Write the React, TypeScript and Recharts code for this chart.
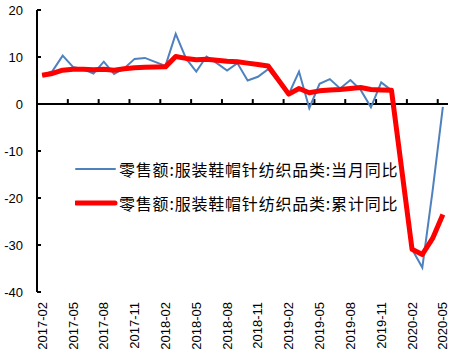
import React from 'react';
import { LineChart, Line, XAxis, YAxis, ReferenceLine } from 'recharts';

const months = [
  '2017-02', '2017-03', '2017-04', '2017-05', '2017-06', '2017-07', '2017-08', '2017-09', '2017-10', '2017-11', '2017-12',
  '2018-01', '2018-02', '2018-03', '2018-04', '2018-05', '2018-06', '2018-07', '2018-08', '2018-09', '2018-10', '2018-11', '2018-12',
  '2019-01', '2019-02', '2019-03', '2019-04', '2019-05', '2019-06', '2019-07', '2019-08', '2019-09', '2019-10', '2019-11', '2019-12',
  '2020-01', '2020-02', '2020-03', '2020-04', '2020-05',
];

const monthlyYoY: (number | null)[] = [
  6.1, 7.0, 10.3, 7.9, 7.4, 6.5, 9.0, 6.4, 7.6, 9.6, 9.8,
  null, 8.1, 14.9, 9.7, 6.9, 10.1, 8.7, 7.1, 8.7, 5.0, 5.8, 7.4,
  null, 2.1, 6.9, -0.9, 4.3, 5.3, 3.3, 5.1, 3.0, -0.7, 4.6, 2.9,
  null, -30.9, -34.8, -18.5, -0.6,
];

const cumulativeYoY: (number | null)[] = [
  6.1, 6.5, 7.2, 7.4, 7.4, 7.3, 7.4, 7.2, 7.5, 7.7, 7.8,
  null, 7.9, 10.1, 9.7, 9.4, 9.5, 9.3, 9.1, 9.0, 8.7, 8.4, 8.1,
  null, 2.1, 3.3, 2.4, 2.8, 3.0, 3.1, 3.3, 3.5, 3.1, 3.0, 2.9,
  null, -30.9, -32.0, -28.6, -23.5,
];

const seriesNames = ['零售额:服装鞋帽针纺织品类:当月同比', '零售额:服装鞋帽针纺织品类:累计同比'];
const yTicks = [-40, -30, -20, -10, 0, 10, 20];
const xLabelTicks = months.map((_, i) => i).filter((i) => i % 3 === 0);
const xTickMarks = xLabelTicks.slice(1).map((t) => t - 0.5);

const data = months.map((m, i) => ({ idx: i, month: m, cur: monthlyYoY[i], cum: cumulativeYoY[i] }));

const BLUE = '#4F81BD';
const RED = '#FF0000';
const FONT = '"Liberation Sans", Arial, sans-serif';
const CJK = '"Noto Sans CJK SC", sans-serif';

const XTick = (props: any) => {
  const { x, y, payload } = props;
  return (
    <text
      x={x}
      y={y}
      transform={`rotate(-90, ${x}, ${y})`}
      textAnchor="end"
      dy="0.35em"
      fontSize={13}
      fontFamily={FONT}
      fill="#000"
    >
      {months[payload.value]}
    </text>
  );
};

const LegendBox = () => {
  const rows = [
    { name: seriesNames[0], color: BLUE, w: 2 },
    { name: seriesNames[1], color: RED, w: 5 },
  ];
  return (
    <div style={{ position: 'absolute', left: 75, top: 152 }}>
      {rows.map((r, i) => (
        <div key={i} style={{ display: 'flex', alignItems: 'center', height: 34 }}>
          <svg width={44} height={10} style={{ display: 'block' }}>
            <line x1={1} y1={5} x2={40} y2={5} stroke={r.color} strokeWidth={r.w} strokeLinecap="round" />
          </svg>
          <span
            style={{
              fontFamily: CJK,
              fontSize: 16,
              letterSpacing: '0.8px',
              color: '#000',
              whiteSpace: 'nowrap',
              lineHeight: '20px',
            }}
          >
            {r.name}
          </span>
        </div>
      ))}
    </div>
  );
};

export default function App() {
  return (
    <div style={{ position: 'absolute', left: 0, top: 0, width: 473, height: 354, background: '#fff' }}>
      <LineChart width={473} height={354} data={data} margin={{ top: 10, right: 25, bottom: 0, left: 0 }}>
        <XAxis
          dataKey="idx"
          type="number"
          domain={[-0.5, 39.5]}
          ticks={xLabelTicks}
          interval={0}
          axisLine={false}
          tickLine={false}
          tickSize={0}
          tickMargin={10}
          height={62}
          tick={<XTick />}
        />
        <YAxis
          type="number"
          domain={[-40, 20]}
          ticks={yTicks}
          interval={0}
          width={37}
          axisLine={{ stroke: '#000', strokeWidth: 2 }}
          tickLine={{ stroke: '#000', strokeWidth: 2 }}
          tickSize={-4}
          tickMargin={18}
          tick={{ fontSize: 13, fontFamily: FONT, fill: '#000' }}
        />
        <ReferenceLine y={0} stroke="#000" strokeWidth={2} />
        {xTickMarks.map((b) => (
          <ReferenceLine
            key={b}
            segment={[
              { x: b, y: 0 },
              { x: b, y: 1.05 },
            ]}
            stroke="#000"
            strokeWidth={2}
          />
        ))}
        <Line
          type="linear"
          dataKey="cur"
          stroke={BLUE}
          strokeWidth={2}
          dot={false}
          connectNulls
          isAnimationActive={false}
        />
        <Line
          type="linear"
          dataKey="cum"
          stroke={RED}
          strokeWidth={5}
          strokeLinejoin="round"
          dot={false}
          connectNulls
          isAnimationActive={false}
        />
      </LineChart>
      <LegendBox />
    </div>
  );
}
